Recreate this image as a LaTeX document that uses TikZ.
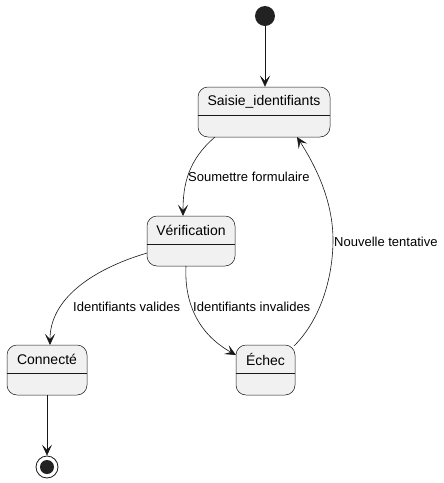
\documentclass[tikz,border=0pt]{standalone}
\usepackage{fontspec}
\setmainfont{Liberation Sans}
\usetikzlibrary{arrows.meta,calc}
\definecolor{boxfill}{HTML}{F1F1F1}
\definecolor{boxline}{HTML}{181818}
\definecolor{dotfill}{HTML}{222222}
\tikzset{
  statebox/.style={draw=boxline, fill=boxfill, rounded corners=10pt, line width=0.5pt, minimum height=50pt, inner sep=0pt},
  statename/.style={font=\fontsize{14}{16}\selectfont, inner sep=0pt, text=black},
  trans/.style={draw=boxline, line width=0.6pt, -{Stealth[length=11pt, width=10pt, inset=5pt]}},
  translabel/.style={font=\fontsize{13}{15}\selectfont, inner sep=0pt, anchor=west, text=black},
}
\newcommand{\statedef}[5]{%
  \node[statebox, minimum width=#4pt] (#1) at (#2,#3) {};
  \node[statename] (#1T) at ($(#1.north)+(0,15)$) {#5};
  \draw[boxline, line width=0.5pt] ($(#1.north west)+(0,28)$) -- ($(#1.north east)+(0,28)$);
}
\begin{document}
\begin{tikzpicture}[x=1pt,y=-1pt]
\useasboundingbox (0,0) rectangle (444,483);
\node[circle, fill=dotfill, minimum size=20pt, inner sep=0pt] (start) at (265,16) {};
\statedef{saisie}{264}{112}{132}{Saisie\_identifiants}
\statedef{verif}{191}{241}{88}{Vérification}
\statedef{conn}{47}{370}{80}{Connecté}
\statedef{echec}{265.5}{370}{59}{Échec}
\node[circle, draw=boxline, line width=0.8pt, fill=white, minimum size=22pt, inner sep=0pt] (endo) at (47,467) {};
\node[circle, fill=dotfill, minimum size=14pt, inner sep=0pt] (endi) at (47,467) {};

\coordinate (sBL) at (215,137);
\coordinate (sBR) at (297,137);
\coordinate (vT) at (183,216);
\coordinate (vL) at (147,253);
\coordinate (vB) at (186,266);
\coordinate (cT) at (50,345);
\coordinate (eL) at (236,355);
\coordinate (eTR) at (294,346);

\draw[trans] (start) -- (saisie.north -| start);
\draw[trans] (sBL) .. controls (188,160) and (183,185) .. (vT);
\draw[trans] (vL) .. controls (90,270) and (50,300) .. (cT);
\draw[trans] (vB) .. controls (184,305) and (200,335) .. (eL);
\draw[trans] (eTR) .. controls (322,318) and (333,275) .. (333,240) .. controls (333,200) and (315,165) .. (sBR);
\draw[trans] (conn.south) -- (endo.north);

\node[translabel] (l1) at (188,177) {Soumettre formulaire};
\node[translabel] (l2) at (73,307) {Identifiants valides};
\node[translabel] (l3) at (193,307) {Identifiants invalides};
\node[translabel] (l4) at (334,242) {Nouvelle tentative};
\end{tikzpicture}
\end{document}
